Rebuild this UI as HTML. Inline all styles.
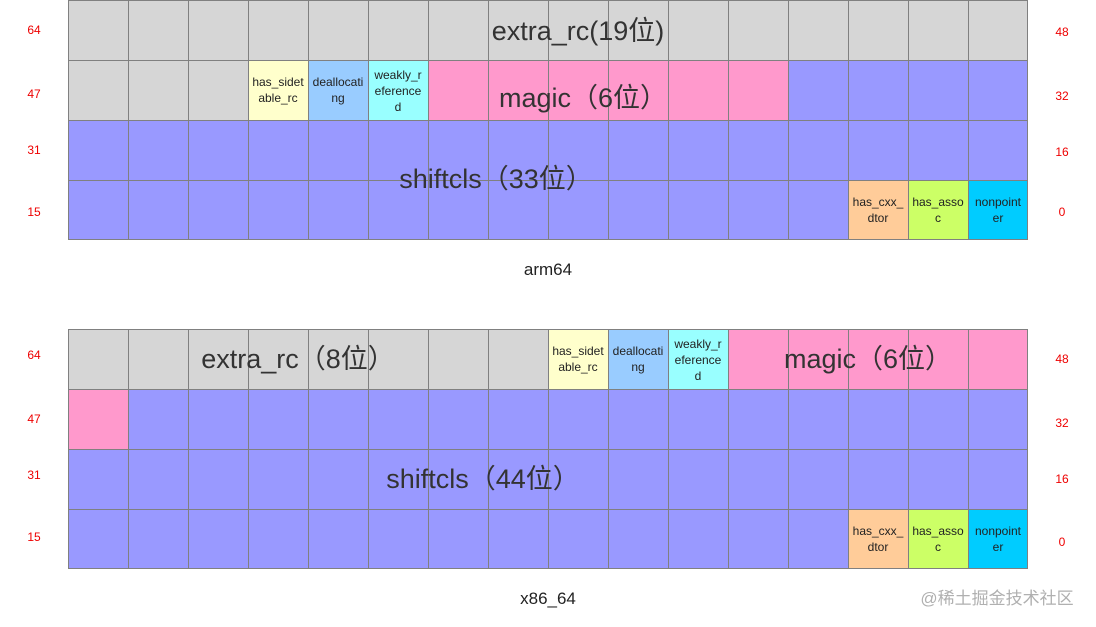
<!DOCTYPE html>
<html><head><meta charset="utf-8"><style>
html,body{margin:0;padding:0;background:#fff;width:1096px;height:627px;overflow:hidden}
svg{display:block}
text{font-family:"Liberation Sans","Noto Sans CJK SC",sans-serif}
.s{font-size:12px;fill:#222;text-anchor:middle}
.r{font-size:12px;fill:#e00;text-anchor:middle}
.b{font-size:27px;fill:#333;text-anchor:middle}
.c{font-size:17px;fill:#222;text-anchor:middle}
</style></head><body>
<svg width="1096" height="627" viewBox="0 0 1096 627">
<!-- TOP GRID -->
<rect x="68" y="0" width="960" height="60" fill="#d6d6d6"/>
<rect x="68" y="60" width="180" height="60" fill="#d6d6d6"/>
<rect x="248" y="60" width="60" height="60" fill="#ffffcc"/>
<rect x="308" y="60" width="60" height="60" fill="#99ccff"/>
<rect x="368" y="60" width="60" height="60" fill="#99ffff"/>
<rect x="428" y="60" width="360" height="60" fill="#ff99cc"/>
<rect x="788" y="60" width="240" height="60" fill="#9999ff"/>
<rect x="68" y="120" width="960" height="120" fill="#9999ff"/>
<rect x="848" y="180" width="60" height="60" fill="#ffcc99"/>
<rect x="908" y="180" width="60" height="60" fill="#ccff66"/>
<rect x="968" y="180" width="60" height="60" fill="#00ccff"/>
<g stroke="#808080" stroke-width="1">
<path d="M68.5 0V240M128.5 0V240M188.5 0V240M248.5 0V240M308.5 0V240M368.5 0V240M428.5 0V240M488.5 0V240M548.5 0V240M608.5 0V240M668.5 0V240M728.5 0V240M788.5 0V240M848.5 0V240M908.5 0V240M968.5 0V240M1027.5 0V240"/>
<path d="M68 0.5H1028M68 60.5H1028M68 120.5H1028M68 180.5H1028M68 239.5H1028"/>
</g>
<!-- BOTTOM GRID -->
<rect x="68" y="329" width="480" height="60" fill="#d6d6d6"/>
<rect x="548" y="329" width="60" height="60" fill="#ffffcc"/>
<rect x="608" y="329" width="60" height="60" fill="#99ccff"/>
<rect x="668" y="329" width="60" height="60" fill="#99ffff"/>
<rect x="728" y="329" width="300" height="60" fill="#ff99cc"/>
<rect x="68" y="389" width="960" height="180" fill="#9999ff"/>
<rect x="68" y="389" width="60" height="60" fill="#ff99cc"/>
<rect x="848" y="509" width="60" height="60" fill="#ffcc99"/>
<rect x="908" y="509" width="60" height="60" fill="#ccff66"/>
<rect x="968" y="509" width="60" height="60" fill="#00ccff"/>
<g stroke="#808080" stroke-width="1">
<path d="M68.5 329V569M128.5 329V569M188.5 329V569M248.5 329V569M308.5 329V569M368.5 329V569M428.5 329V569M488.5 329V569M548.5 329V569M608.5 329V569M668.5 329V569M728.5 329V569M788.5 329V569M848.5 329V569M908.5 329V569M968.5 329V569M1027.5 329V569"/>
<path d="M68 329.5H1028M68 389.5H1028M68 449.5H1028M68 509.5H1028M68 568.5H1028"/>
</g>
<!-- small labels top -->
<text class="s" x="278" y="86">has_sidet</text><text class="s" x="278" y="102">able_rc</text>
<text class="s" x="338" y="86">deallocati</text><text class="s" x="338" y="102">ng</text>
<text class="s" x="398" y="79">weakly_r</text><text class="s" x="398" y="95">eference</text><text class="s" x="398" y="111">d</text>
<text class="s" x="878" y="206">has_cxx_</text><text class="s" x="878" y="222">dtor</text>
<text class="s" x="938" y="206">has_asso</text><text class="s" x="938" y="222">c</text>
<text class="s" x="998" y="206">nonpoint</text><text class="s" x="998" y="222">er</text>
<!-- small labels bottom -->
<text class="s" x="578" y="355">has_sidet</text><text class="s" x="578" y="371">able_rc</text>
<text class="s" x="638" y="355">deallocati</text><text class="s" x="638" y="371">ng</text>
<text class="s" x="698" y="348">weakly_r</text><text class="s" x="698" y="364">eference</text><text class="s" x="698" y="380">d</text>
<text class="s" x="878" y="535">has_cxx_</text><text class="s" x="878" y="551">dtor</text>
<text class="s" x="938" y="535">has_asso</text><text class="s" x="938" y="551">c</text>
<text class="s" x="998" y="535">nonpoint</text><text class="s" x="998" y="551">er</text>
<!-- big labels -->
<text class="b" x="578" y="40">extra_rc(19位)</text>
<text class="b" x="583" y="107">magic（6位）</text>
<text class="b" x="496" y="188">shiftcls（33位）</text>
<text class="b" x="298" y="368">extra_rc（8位）</text>
<text class="b" x="868" y="368">magic（6位）</text>
<text class="b" x="483" y="488">shiftcls（44位）</text>
<!-- captions -->
<text class="c" x="548" y="275">arm64</text>
<text class="c" x="548" y="604">x86_64</text>
<text x="997" y="604" style="font-size:17px;fill:#b0b0b0;text-anchor:middle">@稀土掘金技术社区</text>
<!-- numbers -->
<text class="r" x="34" y="34">64</text><text class="r" x="34" y="98">47</text><text class="r" x="34" y="154">31</text><text class="r" x="34" y="216">15</text>
<text class="r" x="1062" y="36">48</text><text class="r" x="1062" y="100">32</text><text class="r" x="1062" y="156">16</text><text class="r" x="1062" y="216">0</text>
<text class="r" x="34" y="359">64</text><text class="r" x="34" y="423">47</text><text class="r" x="34" y="479">31</text><text class="r" x="34" y="541">15</text>
<text class="r" x="1062" y="363">48</text><text class="r" x="1062" y="427">32</text><text class="r" x="1062" y="483">16</text><text class="r" x="1062" y="546">0</text>
</svg>
</body></html>
